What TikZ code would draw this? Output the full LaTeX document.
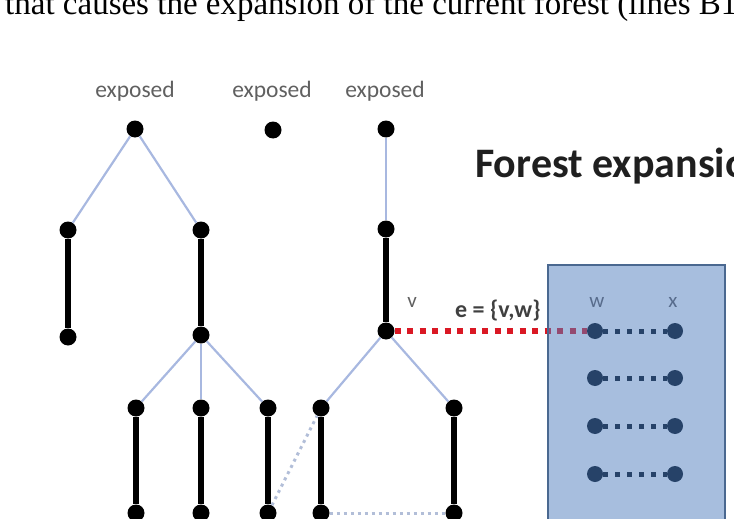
\documentclass[tikz,border=0pt]{standalone}
\usepackage{fontspec}
\setmainfont{Liberation Serif}
\newfontfamily\calfont{Carlito}
\usetikzlibrary{backgrounds}
\pgfdeclarelayer{lowest}
\pgfdeclarelayer{boxlayer}
\pgfsetlayers{lowest,boxlayer,main}
\definecolor{thinblue}{RGB}{168,184,224}
\definecolor{dotblue}{RGB}{178,190,216}
\definecolor{redline}{RGB}{218,24,36}
\definecolor{boxfillc}{RGB}{79,125,189}
\definecolor{boxedge}{RGB}{74,104,144}
\definecolor{navy}{RGB}{38,66,104}
\definecolor{labgray}{RGB}{96,96,96}
\definecolor{wxgray}{RGB}{88,108,140}
\tikzset{
  bdot/.style={circle, fill=black, inner sep=0pt, minimum size=17pt},
  ndot/.style={circle, fill=navy, inner sep=0pt, minimum size=16pt},
  thinedge/.style={draw=thinblue, line width=2.2pt},
  thickedge/.style={draw=black, line width=6pt},
  lightdots/.style={draw=dotblue, line width=3pt, dash pattern=on 3pt off 4pt},
  reddots/.style={draw=redline, line width=6pt, dash pattern=on 6pt off 6.5pt},
  navydots/.style={draw=navy, line width=5pt, dash pattern=on 5pt off 7pt},
  exptext/.style={font=\calfont\fontsize{23.5}{23.5}\selectfont, text=labgray, anchor=base, inner sep=0pt},
  smalllab/.style={font=\calfont\fontsize{21}{21}\selectfont, anchor=base, inner sep=0pt}
}
\begin{document}
\begin{tikzpicture}[x=1pt, y=-1pt]
\useasboundingbox (0,0) rectangle (734,519);
\clip (0,0) rectangle (734,519);

% top text
\node[anchor=base west, inner sep=0pt, font=\fontsize{33}{33}\selectfont] (toptext) at (5,15)
  {that causes the expansion of the current forest (lines B10};

% title
\node[anchor=base west, inner sep=0pt, font=\calfont\bfseries\fontsize{42}{42}\selectfont, text=black!88] (title) at (475,177) {Forest expansion};

% exposed labels
\node[exptext] (e1) at (135,98) {exposed};
\node[exptext] (e2) at (272,98) {exposed};
\node[exptext] (e3) at (385,98) {exposed};

% tree nodes
\node[bdot] (r1) at (135,129) {};
\node[bdot] (r2) at (273,130) {};
\node[bdot] (r3) at (386,129) {};
\node[bdot] (a1) at (68,230) {};
\node[bdot] (a2) at (201,230) {};
\node[bdot] (a3) at (386,229) {};
\node[bdot] (b1) at (68,337) {};
\node[bdot] (b2) at (201,335) {};
\node[bdot] (v) at (386,331) {};
\node[bdot] (c1) at (136,408) {};
\node[bdot] (c2) at (201,408) {};
\node[bdot] (c3) at (268,408) {};
\node[bdot] (c4) at (321,408) {};
\node[bdot] (c5) at (454,408) {};
\node[bdot] (d1) at (136,513) {};
\node[bdot] (d2) at (201,513) {};
\node[bdot] (d3) at (268,513) {};
\node[bdot] (d4) at (321,513) {};
\node[bdot] (d5) at (454,513) {};

% thin (non-matching) tree edges
\draw[thinedge] (r1) -- (a1);
\draw[thinedge] (r1) -- (a2);
\draw[thinedge] (r3) -- (a3);
\draw[thinedge] (b2) -- (c1);
\draw[thinedge] (b2) -- (c2);
\draw[thinedge] (b2) -- (c3);
\draw[thinedge] (v) -- (c4);
\draw[thinedge] (v) -- (c5);

% thick matching edges
\draw[thickedge] (a1) -- (b1);
\draw[thickedge] (a2) -- (b2);
\draw[thickedge] (a3) -- (v);
\draw[thickedge] (c1) -- (d1);
\draw[thickedge] (c2) -- (d2);
\draw[thickedge] (c3) -- (d3);
\draw[thickedge] (c4) -- (d4);
\draw[thickedge] (c5) -- (d5);

% light dotted edges
\draw[lightdots] (d3) -- (c4);
\draw[lightdots] (d4) -- (d5);

% box nodes
\node[ndot] (w1) at (595,331) {};
\node[ndot] (x1) at (675,331) {};
\node[ndot] (w2) at (595,378) {};
\node[ndot] (x2) at (675,378) {};
\node[ndot] (w3) at (595,426) {};
\node[ndot] (x3) at (675,426) {};
\node[ndot] (w4) at (595,474) {};
\node[ndot] (x4) at (675,474) {};
\draw[navydots] (w1) -- (x1);
\draw[navydots] (w2) -- (x2);
\draw[navydots] (w3) -- (x3);
\draw[navydots] (w4) -- (x4);

% box (semi-transparent, over the red edge)
\begin{pgfonlayer}{boxlayer}
\fill[boxfillc, fill opacity=0.5] (548,265) rectangle (725,540);
\draw[boxedge, line width=1.5pt] (548,540) -- (548,265) -- (725,265) -- (725,540);
\end{pgfonlayer}

% red edge e = {v,w}
\begin{pgfonlayer}{lowest}
\draw[reddots] (v) -- (w1);
\end{pgfonlayer}

% labels
\node[smalllab, text=labgray] (vl) at (412,307) {v};
\node[anchor=base west, inner sep=0pt, font=\calfont\bfseries\fontsize{24}{24}\selectfont, text=black!75] (el) at (455,317) {e = \{v,w\}};
\node[smalllab, text=wxgray] (wl) at (597,307) {w};
\node[smalllab, text=wxgray] (xl) at (673,307) {x};
\end{tikzpicture}
\end{document}
